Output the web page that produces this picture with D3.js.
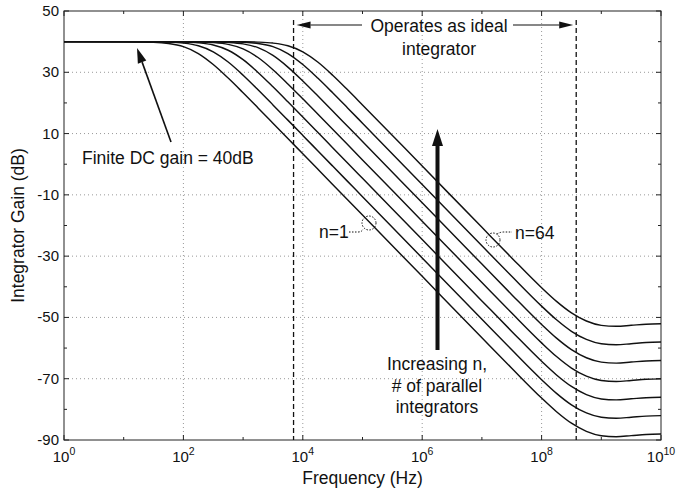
<!DOCTYPE html>
<html>
<head>
<meta charset="utf-8">
<script src="https://cdn.jsdelivr.net/npm/d3@7"></script>
<style>
  body { margin: 0; background: #fff; }
  svg text { font-family: "Liberation Sans", Arial, sans-serif; fill: #111; }
</style>
</head>
<body>
<div class="chart"></div>
<script>
// frequency points (log10 of Hz) shared by all curves
const freqExp = [0, 1, 1.5, 1.75, 2, 2.25, 2.5, 2.75, 3, 3.25, 3.5, 3.75, 4, 4.25, 4.5, 4.75, 5, 6, 7,
                 7.5, 8, 8.25, 8.5, 8.75, 9, 9.25, 9.5, 9.75, 10];

// gain in dB, n = 1, 2, 4 ... 64
const gainN1  = [40, 39.98, 39.81, 39.41, 38.37, 36.12, 32.54, 28.11, 23.31, 18.37, 13.39, 8.4, 3.4, -1.6, -6.6, -11.6, -16.6, -36.6, -56.6,
                 -66.57, -76.31, -80.77, -84.52, -87.17, -88.59, -88.91, -88.57, -88.2, -88.05];
const gainN2  = [40, 39.99, 39.95, 39.85, 39.53, 38.66, 36.68, 33.34, 29.04, 24.28, 19.36, 14.39, 9.4, 4.4, -0.6, -5.6, -10.6, -30.6, -50.6,
                 -60.57, -70.31, -74.77, -78.52, -81.17, -82.59, -82.91, -82.57, -82.2, -82.05];
const gainN4  = [40, 40, 39.99, 39.96, 39.88, 39.62, 38.9, 37.19, 34.11, 29.95, 25.25, 20.35, 15.39, 10.4, 5.4, 0.4, -4.6, -24.6, -44.6,
                 -54.57, -64.31, -68.77, -72.52, -75.17, -76.59, -76.91, -76.57, -76.2, -76.05];
const gainN8  = [40, 40, 40, 39.99, 39.97, 39.9, 39.7, 39.1, 37.64, 34.83, 30.84, 26.21, 21.34, 16.38, 11.4, 6.4, 1.4, -18.6, -38.6,
                 -48.57, -58.31, -62.77, -66.52, -69.17, -70.59, -70.91, -70.57, -70.2, -70.05];
const gainN16 = [40, 40, 40, 40, 39.99, 39.98, 39.92, 39.76, 39.27, 38.03, 35.5, 31.7, 27.17, 22.33, 17.38, 12.39, 7.4, -12.6, -32.6,
                 -42.57, -52.31, -56.77, -60.52, -63.17, -64.59, -64.91, -64.57, -64.2, -64.05];
const gainN32 = [40, 40, 40, 40, 40, 39.99, 39.98, 39.94, 39.81, 39.41, 38.37, 36.12, 32.54, 28.11, 23.31, 18.37, 13.39, -6.6, -26.6,
                 -36.57, -46.31, -50.77, -54.52, -57.17, -58.59, -58.91, -58.57, -58.2, -58.05];
const gainN64 = [40, 40, 40, 40, 40, 40, 39.99, 39.98, 39.95, 39.85, 39.53, 38.66, 36.68, 33.34, 29.04, 24.28, 19.36, -0.6, -20.6,
                 -30.57, -40.31, -44.77, -48.52, -51.17, -52.59, -52.91, -52.57, -52.2, -52.05];
const curves = [gainN1, gainN2, gainN4, gainN8, gainN16, gainN32, gainN64];

const yTicks = [50, 30, 10, -10, -30, -50, -70, -90];
const xTickExp = [0, 2, 4, 6, 8, 10];
const idealBand = [7e3, 3.8e8];   // dashed limits of the ideal integrator region

const width = 678, height = 489;
const margin = {top: 11, right: 17, bottom: 49, left: 64};

const svg = d3.select('.chart').append('svg')
    .attr('width', width).attr('height', height);

const x = d3.scaleLog().domain([1, 1e10]).range([margin.left, width - margin.right]);
const y = d3.scaleLinear().domain([-90, 50]).range([height - margin.bottom, margin.top]);

// grid
const grid = svg.append('g').attr('class', 'grid')
    .attr('stroke', '#999').attr('stroke-dasharray', '1,3').attr('stroke-width', 1);
grid.selectAll('.gy').data(yTicks.filter(d => d > -90 && d < 50)).join('line')
    .attr('x1', x(1)).attr('x2', x(1e10))
    .attr('y1', d => y(d)).attr('y2', d => y(d));
grid.selectAll('.gx').data(xTickExp.filter(d => d > 0 && d < 10)).join('line')
    .attr('x1', d => x(Math.pow(10, d))).attr('x2', d => x(Math.pow(10, d)))
    .attr('y1', y(50)).attr('y2', y(-90));

// ticks (inward)
const tk = svg.append('g').attr('stroke', '#222').attr('stroke-width', 1);
d3.range(-90, 51, 10).forEach(v => {
    const len = yTicks.includes(v) ? 5 : 3;
    tk.append('line').attr('x1', x(1)).attr('x2', x(1) + len).attr('y1', y(v)).attr('y2', y(v));
    tk.append('line').attr('x1', x(1e10)).attr('x2', x(1e10) - len).attr('y1', y(v)).attr('y2', y(v));
});
d3.range(0, 11).forEach(e => {
    const len = xTickExp.includes(e) ? 5 : 3;
    const xx = x(Math.pow(10, e));
    tk.append('line').attr('x1', xx).attr('x2', xx).attr('y1', y(-90)).attr('y2', y(-90) - len);
    tk.append('line').attr('x1', xx).attr('x2', xx).attr('y1', y(50)).attr('y2', y(50) + len);
});

// frame
svg.append('rect')
    .attr('x', x(1)).attr('y', y(50))
    .attr('width', x(1e10) - x(1)).attr('height', y(-90) - y(50))
    .attr('fill', 'none').attr('stroke', '#222').attr('stroke-width', 1);

// tick labels
svg.append('g').selectAll('text').data(yTicks).join('text')
    .attr('x', x(1) - 5).attr('y', d => y(d) + 5)
    .attr('text-anchor', 'end').style('font-size', '15px')
    .text(d => d);

const xl = svg.append('g').selectAll('text').data(xTickExp).join('text')
    .attr('x', d => x(Math.pow(10, d)))
    .attr('y', 462)
    .attr('text-anchor', 'middle').style('font-size', '15px');
xl.append('tspan').text('10');
xl.append('tspan').attr('dy', -7).style('font-size', '10.5px').text(d => d);

// axis titles
svg.append('text').attr('x', (x(1) + x(1e10)) / 2).attr('y', 484)
    .attr('text-anchor', 'middle').style('font-size', '17.5px').text('Frequency (Hz)');
svg.append('text')
    .attr('transform', `translate(24,${(y(50) + y(-90)) / 2}) rotate(-90)`)
    .attr('text-anchor', 'middle').style('font-size', '17.5px').text('Integrator Gain (dB)');

// dashed region limits
svg.append('g').selectAll('line').data(idealBand).join('line')
    .attr('x1', d => x(d)).attr('x2', d => x(d))
    .attr('y1', 20).attr('y2', y(-90))
    .attr('stroke', '#111').attr('stroke-width', 1.3).attr('stroke-dasharray', '5,3');

// curves
const line = d3.line()
    .x((d, i) => x(Math.pow(10, freqExp[i])))
    .y(d => y(d))
    .curve(d3.curveMonotoneX);
svg.append('g').selectAll('path').data(curves).join('path')
    .attr('d', line)
    .attr('fill', 'none').attr('stroke', '#111').attr('stroke-width', 1.45);

// annotations
function arrow(g, x1, y1, x2, y2, hl, hw, sw) {
    const a = Math.atan2(y2 - y1, x2 - x1);
    const bx = x2 - hl * Math.cos(a), by = y2 - hl * Math.sin(a);
    g.append('line').attr('x1', x1).attr('y1', y1).attr('x2', bx).attr('y2', by)
        .attr('stroke', '#111').attr('stroke-width', sw);
    const px = Math.sin(a) * hw / 2, py = -Math.cos(a) * hw / 2;
    g.append('path')
        .attr('d', `M${x2},${y2}L${bx + px},${by + py}L${bx - px},${by - py}Z`)
        .attr('fill', '#111');
}
const ann = svg.append('g');
const fs = '17.5px';

ann.append('text').attr('x', 82).attr('y', 164).style('font-size', fs).text('Finite DC gain = 40dB');
arrow(ann, 171, 142, 137, 48, 15, 9, 1.6);

ann.append('text').attr('x', 439).attr('y', 32).attr('text-anchor', 'middle').style('font-size', fs).text('Operates as ideal');
ann.append('text').attr('x', 439).attr('y', 55).attr('text-anchor', 'middle').style('font-size', fs).text('integrator');
arrow(ann, 362, 25, x(idealBand[0]) + 3, 25, 14, 7, 1.2);
arrow(ann, 513, 25, x(idealBand[1]) - 3, 25, 14, 7, 1.2);

arrow(ann, 437.5, 350, 437.5, 129, 17, 11, 4);
ann.append('text').attr('x', 437).attr('y', 370).attr('text-anchor', 'middle').style('font-size', fs).text('Increasing n,');
ann.append('text').attr('x', 437).attr('y', 392).attr('text-anchor', 'middle').style('font-size', fs).text('# of parallel');
ann.append('text').attr('x', 437).attr('y', 413).attr('text-anchor', 'middle').style('font-size', fs).text('integrators');

ann.append('text').attr('x', 319).attr('y', 238).style('font-size', fs).text('n=1');
ann.append('circle').attr('cx', 369).attr('cy', 223).attr('r', 7)
    .attr('fill', 'none').attr('stroke', '#111').attr('stroke-dasharray', '1.5,1.5');
ann.append('path').attr('d', 'M349,232 L358,232 Q362,232 363,229')
    .attr('fill', 'none').attr('stroke', '#111').attr('stroke-dasharray', '1.5,1.5');

ann.append('text').attr('x', 515).attr('y', 239).style('font-size', fs).text('n=64');
ann.append('circle').attr('cx', 493).attr('cy', 240).attr('r', 7)
    .attr('fill', 'none').attr('stroke', '#111').attr('stroke-dasharray', '1.5,1.5');
ann.append('path').attr('d', 'M497,234 Q500,232 504,232 L512,232')
    .attr('fill', 'none').attr('stroke', '#111').attr('stroke-dasharray', '1.5,1.5');
</script>
</body>
</html>
